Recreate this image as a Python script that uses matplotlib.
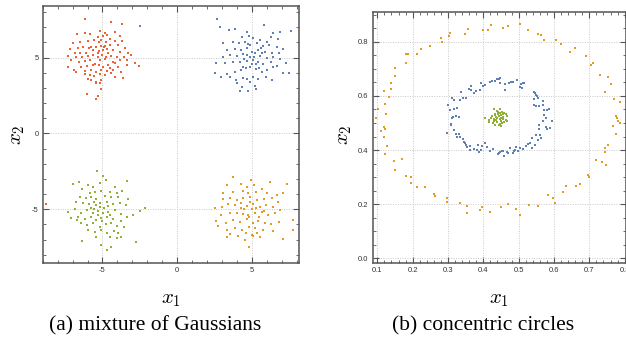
import matplotlib
matplotlib.use("Agg")
import matplotlib.pyplot as plt
from matplotlib.ticker import MultipleLocator
import numpy as np

# Mathematica default palette
C_BLUE = "#5E81B5"
C_ORANGE = "#E19C24"
C_GREEN = "#8FB032"
C_RED = "#EB6235"

# (a) mixture of Gaussians
red_pts = np.array([
    (-6.14, 7.54), (-4.40, 7.32), (-3.71, 7.23), (-6.70, 6.57), (-6.14, 6.64), (-5.85, 6.53),
    (-5.16, 6.73), (-4.82, 6.64), (-4.17, 6.66), (-4.73, 6.48), (-5.27, 6.37), (-3.84, 6.44),
    (-6.96, 5.98), (-6.50, 6.02), (-6.00, 6.09), (-5.56, 6.13), (-5.11, 6.15), (-4.78, 6.04),
    (-4.51, 6.20), (-4.17, 6.07), (-3.66, 6.07), (-7.14, 5.54), (-6.63, 5.65), (-6.29, 5.71),
    (-5.74, 5.71), (-5.40, 5.67), (-5.07, 5.78), (-4.80, 5.76), (-4.51, 5.80), (-3.95, 5.85),
    (-3.50, 5.60), (-6.85, 5.32), (-6.52, 5.27), (-6.07, 5.32), (-5.63, 5.49), (-5.22, 5.45),
    (-4.96, 5.49), (-4.69, 5.54), (-4.29, 5.49), (-3.84, 5.38), (-3.28, 5.27), (-7.30, 5.10),
    (-6.74, 5.05), (-6.34, 5.01), (-5.96, 5.10), (-5.63, 5.16), (-5.29, 5.05), (-5.00, 5.19),
    (-4.78, 5.01), (-4.40, 5.10), (-4.06, 5.01), (-3.57, 5.05), (-3.06, 5.16), (-7.08, 4.84),
    (-6.56, 4.73), (-6.18, 4.77), (-5.85, 4.84), (-5.18, 4.84), (-4.84, 4.88), (-4.29, 4.73),
    (-3.84, 4.84), (-3.33, 4.84), (-2.83, 4.66), (-7.30, 4.35), (-6.88, 4.18), (-6.41, 4.40),
    (-6.03, 4.44), (-5.63, 4.48), (-5.22, 4.51), (-4.96, 4.40), (-4.62, 4.48), (-4.17, 4.62),
    (-3.95, 4.40), (-3.39, 4.51), (-2.54, 4.44), (-6.74, 4.07), (-6.18, 4.11), (-5.74, 4.18),
    (-5.40, 4.07), (-5.07, 4.18), (-4.73, 4.13), (-4.29, 4.18), (-3.73, 4.07), (-6.18, 3.91),
    (-5.85, 3.85), (-5.56, 3.78), (-5.18, 3.91), (-4.84, 3.85), (-4.40, 3.96), (-4.17, 3.74),
    (-5.96, 3.56), (-5.74, 3.52), (-5.40, 3.41), (-5.11, 3.52), (-3.62, 3.67), (-5.40, 3.34),
    (-5.18, 3.34), (-5.07, 2.92), (-6.03, 2.57), (-5.33, 2.44), (-5.45, 2.26), (-5.30, 5.30),
    (-4.90, 5.70), (-5.50, 4.60), (-4.60, 5.30), (-5.90, 5.60), (-4.50, 4.30), (-5.20, 6.00),
    (-4.95, 6.40), (-8.75, -4.66),
])

blue_pts = np.array([
    (2.68, 7.54), (2.86, 7.03), (5.80, 7.14), (3.46, 6.81), (3.86, 6.86), (4.64, 6.66),
    (4.82, 6.42), (7.61, 6.75), (6.88, 6.70), (6.43, 6.59), (6.25, 6.37), (4.31, 6.33),
    (5.09, 6.26), (5.54, 6.15), (5.98, 6.04), (6.72, 6.20), (3.08, 5.98), (3.75, 6.04),
    (4.13, 5.93), (4.53, 6.04), (4.75, 5.87), (5.31, 5.93), (5.76, 5.76), (6.16, 5.82),
    (6.65, 5.71), (7.10, 5.54), (3.30, 5.49), (3.86, 5.54), (4.26, 5.49), (4.64, 5.60),
    (4.98, 5.38), (5.42, 5.49), (5.87, 5.38), (6.32, 5.27), (6.83, 5.32), (3.04, 5.05),
    (3.53, 5.16), (4.02, 5.10), (4.42, 5.23), (4.87, 5.01), (5.13, 5.05), (5.54, 5.10),
    (5.98, 4.95), (6.43, 5.05), (6.88, 4.88), (2.63, 4.62), (3.19, 4.66), (3.75, 4.70),
    (4.20, 4.73), (4.64, 4.79), (5.04, 4.84), (5.42, 4.73), (5.76, 4.57), (6.25, 4.70),
    (6.65, 4.44), (7.28, 4.66), (2.52, 4.00), (2.90, 3.74), (3.30, 3.91), (3.86, 4.07),
    (4.24, 4.18), (4.60, 4.29), (4.87, 4.40), (5.27, 4.22), (5.65, 4.07), (5.98, 4.18),
    (6.43, 4.40), (7.05, 3.96), (7.50, 4.00), (3.53, 3.69), (3.93, 3.52), (4.38, 3.63),
    (4.69, 3.56), (5.09, 3.74), (5.42, 3.60), (5.94, 3.69), (6.32, 3.52), (3.97, 3.30),
    (4.31, 3.03), (4.87, 3.41), (5.20, 3.12), (5.27, 2.90), (4.20, 2.81), (4.75, 2.81),
    (5.20, 5.30), (4.70, 5.20), (5.30, 4.60), (4.50, 4.90), (5.60, 5.60), (4.90, 5.80),
    (5.50, 4.30), (4.40, 4.40), (5.00, 4.60), (5.70, 5.30), (-2.50, 7.07),
])

green_pts = np.array([
    (-6.96, -3.34), (-6.58, -3.19), (-5.36, -2.46), (-4.96, -2.79), (-4.78, -3.08), (-6.00, -3.41),
    (-5.63, -3.52), (-5.18, -3.25), (-4.17, -3.52), (-3.39, -3.12), (-6.34, -3.69), (-5.85, -3.91),
    (-5.51, -3.85), (-5.07, -3.78), (-4.51, -3.85), (-4.06, -3.96), (-3.66, -3.78), (-6.52, -4.18),
    (-6.12, -4.29), (-5.74, -4.22), (-5.40, -4.35), (-4.84, -4.13), (-4.40, -4.22), (-3.95, -4.18),
    (-3.28, -4.35), (-6.79, -4.51), (-6.29, -4.57), (-5.89, -4.66), (-5.56, -4.51), (-5.18, -4.62),
    (-4.73, -4.51), (-4.29, -4.66), (-3.84, -4.57), (-3.44, -4.73), (-2.17, -4.95), (-7.30, -5.16),
    (-6.85, -5.01), (-6.41, -5.27), (-6.03, -5.05), (-5.63, -5.23), (-5.29, -5.10), (-4.96, -5.27),
    (-4.62, -5.16), (-4.17, -5.05), (-3.79, -5.32), (-2.95, -5.38), (-2.50, -5.10), (-7.08, -5.60),
    (-6.63, -5.49), (-6.18, -5.67), (-5.74, -5.54), (-5.40, -5.71), (-5.07, -5.60), (-4.73, -5.49),
    (-4.29, -5.67), (-3.73, -5.76), (-3.39, -5.49), (-6.41, -5.89), (-6.03, -6.04), (-5.63, -5.93),
    (-5.18, -6.15), (-4.78, -5.98), (-4.40, -5.89), (-4.06, -6.11), (-3.57, -6.20), (-5.96, -6.37),
    (-5.51, -6.48), (-5.07, -6.37), (-4.69, -6.55), (-4.24, -6.42), (-3.95, -6.59), (-5.40, -6.81),
    (-4.51, -6.86), (-4.06, -6.92), (-6.34, -7.08), (-5.07, -7.36), (-4.40, -7.52), (-4.73, -7.69),
    (-2.77, -7.16), (-3.79, -6.81), (-6.70, -5.71), (-5.18, -4.84), (-5.30, -5.40), (-4.90, -4.90),
    (-5.60, -5.00), (-4.50, -5.40), (-5.00, -5.80), (-5.80, -4.90), (-4.60, -4.80), (-5.40, -4.70),
])

orange_pts = np.array([
    (3.75, -2.86), (4.91, -3.08), (6.21, -3.19), (7.32, -3.34), (3.30, -3.41), (4.24, -3.34),
    (4.64, -3.52), (5.13, -3.41), (5.65, -3.69), (3.08, -3.96), (3.75, -3.85), (4.38, -3.78),
    (4.75, -3.91), (5.27, -3.85), (5.98, -3.96), (6.65, -4.07), (7.10, -3.91), (3.04, -4.35),
    (3.53, -4.29), (4.02, -4.40), (4.42, -4.29), (4.87, -4.18), (5.31, -4.40), (5.80, -4.35),
    (6.32, -4.29), (6.76, -4.51), (2.52, -4.95), (2.97, -4.84), (3.42, -4.66), (3.86, -4.73),
    (4.24, -4.62), (4.64, -4.79), (5.09, -4.66), (5.54, -4.84), (5.94, -4.73), (6.38, -4.88),
    (6.88, -5.05), (2.90, -5.38), (3.53, -5.27), (3.97, -5.23), (4.38, -5.32), (4.75, -5.38),
    (5.20, -5.27), (5.65, -5.16), (6.09, -5.38), (6.54, -5.27), (2.63, -5.76), (3.26, -5.89),
    (3.75, -5.71), (4.20, -5.82), (4.64, -5.67), (5.09, -5.93), (5.42, -5.76), (5.87, -5.89),
    (6.25, -5.98), (6.83, -5.82), (7.77, -5.71), (2.75, -6.11), (3.35, -6.37), (3.86, -6.26),
    (4.31, -6.37), (4.82, -6.15), (5.20, -6.26), (5.76, -6.37), (3.53, -6.64), (4.08, -6.77),
    (4.60, -6.59), (4.98, -6.70), (5.36, -6.55), (6.43, -6.42), (7.77, -6.37), (4.82, -7.47),
    (4.53, -7.03), (5.54, -6.86), (7.10, -6.95), (5.09, -6.77), (3.30, -6.86), (5.00, -5.00),
    (4.50, -5.00), (5.30, -4.90), (4.80, -5.50), (5.50, -5.50), (4.30, -4.90), (5.80, -5.10),
    (4.90, -4.50),
])

# (b) concentric circles
outer_pts = np.array([
    (0.280, 0.815), (0.283, 0.799), (0.306, 0.833), (0.302, 0.822), (0.349, 0.828), (0.356, 0.847),
    (0.399, 0.843), (0.413, 0.843), (0.423, 0.862), (0.248, 0.784), (0.225, 0.772), (0.213, 0.753),
    (0.187, 0.756), (0.180, 0.753), (0.181, 0.723), (0.149, 0.704), (0.150, 0.675), (0.139, 0.646),
    (0.140, 0.625), (0.119, 0.617), (0.134, 0.595), (0.122, 0.569), (0.103, 0.551), (0.125, 0.532),
    (0.096, 0.517), (0.118, 0.485), (0.121, 0.477), (0.111, 0.470), (0.119, 0.448),
    (0.457, 0.849), (0.470, 0.860), (0.505, 0.864), (0.527, 0.843), (0.554, 0.828), (0.562, 0.826),
    (0.573, 0.807), (0.605, 0.807), (0.607, 0.806), (0.621, 0.790), (0.644, 0.762), (0.659, 0.778),
    (0.690, 0.747), (0.705, 0.714), (0.711, 0.720), (0.729, 0.677), (0.752, 0.669), (0.761, 0.643),
    (0.744, 0.614), (0.769, 0.589), (0.788, 0.579), (0.776, 0.525), (0.778, 0.517), (0.781, 0.507),
    (0.787, 0.500), (0.766, 0.488), (0.774, 0.458),
    (0.128, 0.415), (0.123, 0.384), (0.147, 0.360), (0.169, 0.368), (0.151, 0.325), (0.182, 0.304),
    (0.194, 0.301), (0.194, 0.277), (0.211, 0.265), (0.234, 0.265), (0.261, 0.239), (0.263, 0.231),
    (0.298, 0.223), (0.297, 0.209), (0.335, 0.206), (0.354, 0.194), (0.354, 0.169), (0.390, 0.179),
    (0.396, 0.190), (0.420, 0.172),
    (0.752, 0.418), (0.745, 0.409), (0.743, 0.394), (0.719, 0.363), (0.735, 0.356), (0.748, 0.345),
    (0.695, 0.307), (0.700, 0.301), (0.674, 0.276), (0.662, 0.267), (0.633, 0.267), (0.626, 0.245),
    (0.583, 0.234), (0.598, 0.223), (0.602, 0.206), (0.554, 0.194), (0.530, 0.198), (0.493, 0.184),
    (0.503, 0.162), (0.471, 0.202), (0.450, 0.191),
])

inner_pts = np.array([
    (0.312, 0.594), (0.318, 0.584), (0.334, 0.584), (0.337, 0.615), (0.342, 0.594), (0.351, 0.594),
    (0.359, 0.625), (0.364, 0.621), (0.366, 0.636), (0.375, 0.612), (0.380, 0.617), (0.390, 0.623),
    (0.394, 0.646), (0.399, 0.637), (0.404, 0.642), (0.420, 0.652), (0.425, 0.654), (0.432, 0.654),
    (0.440, 0.664), (0.300, 0.568), (0.306, 0.549), (0.316, 0.552), (0.326, 0.554), (0.310, 0.520),
    (0.324, 0.526), (0.330, 0.523), (0.315, 0.522), (0.296, 0.463), (0.309, 0.498), (0.309, 0.494),
    (0.318, 0.475), (0.323, 0.460), (0.332, 0.460), (0.335, 0.448), (0.326, 0.448),
    (0.446, 0.667), (0.443, 0.664), (0.448, 0.646), (0.462, 0.643), (0.473, 0.646), (0.479, 0.652),
    (0.483, 0.651), (0.495, 0.658), (0.460, 0.621), (0.507, 0.643), (0.511, 0.648), (0.516, 0.648),
    (0.505, 0.633), (0.510, 0.630), (0.543, 0.615), (0.546, 0.609), (0.550, 0.602), (0.552, 0.599),
    (0.554, 0.594), (0.543, 0.590), (0.543, 0.568), (0.550, 0.562), (0.557, 0.562), (0.570, 0.581),
    (0.570, 0.568), (0.571, 0.547), (0.579, 0.549), (0.586, 0.551), (0.573, 0.531), (0.578, 0.520),
    (0.595, 0.507), (0.570, 0.507), (0.576, 0.485), (0.579, 0.478), (0.557, 0.491), (0.557, 0.478),
    (0.590, 0.483), (0.550, 0.454), (0.559, 0.454), (0.562, 0.444), (0.538, 0.444),
    (0.342, 0.442), (0.344, 0.431), (0.349, 0.427), (0.351, 0.418), (0.353, 0.412), (0.362, 0.415),
    (0.361, 0.400), (0.375, 0.405), (0.383, 0.399), (0.387, 0.394), (0.392, 0.402), (0.386, 0.417),
    (0.396, 0.415), (0.404, 0.427), (0.409, 0.411), (0.420, 0.396), (0.428, 0.405), (0.442, 0.384),
    (0.443, 0.388), (0.448, 0.394), (0.452, 0.396), (0.457, 0.396), (0.459, 0.378), (0.467, 0.394),
    (0.471, 0.390), (0.476, 0.406), (0.484, 0.388), (0.488, 0.396), (0.490, 0.400), (0.492, 0.412),
    (0.497, 0.396), (0.505, 0.406), (0.512, 0.405), (0.522, 0.415), (0.526, 0.421), (0.533, 0.425),
    (0.538, 0.406), (0.545, 0.417), (0.554, 0.439),
])

core_pts = np.array([
    (0.429, 0.550), (0.438, 0.545), (0.446, 0.550), (0.452, 0.541), (0.433, 0.535), (0.441, 0.532),
    (0.448, 0.537), (0.459, 0.537), (0.465, 0.532), (0.424, 0.525), (0.436, 0.523), (0.444, 0.525),
    (0.451, 0.528), (0.457, 0.523), (0.468, 0.525), (0.421, 0.517), (0.431, 0.513), (0.440, 0.517),
    (0.448, 0.513), (0.455, 0.515), (0.463, 0.510), (0.467, 0.508), (0.417, 0.504), (0.427, 0.500),
    (0.438, 0.504), (0.446, 0.498), (0.453, 0.500), (0.459, 0.503), (0.433, 0.492), (0.443, 0.492),
    (0.450, 0.488), (0.406, 0.520), (0.415, 0.510), (0.436, 0.510), (0.450, 0.508), (0.457, 0.535),
    (0.442, 0.540), (0.434, 0.528), (0.429, 0.508), (0.451, 0.520),
])

FRAME = "#555555"
TICK_TEXT = "#333333"

plt.rcParams["mathtext.fontset"] = "cm"
plt.rcParams["axes.unicode_minus"] = False


def style_axes(ax, xmajor, xminor, ymajor, yminor):
    ax.xaxis.set_major_locator(MultipleLocator(xmajor))
    ax.xaxis.set_minor_locator(MultipleLocator(xminor))
    ax.yaxis.set_major_locator(MultipleLocator(ymajor))
    ax.yaxis.set_minor_locator(MultipleLocator(yminor))
    ax.tick_params(which="both", direction="in", top=True, right=True,
                   color=FRAME, labelcolor=TICK_TEXT, labelsize=5.5, pad=3)
    ax.tick_params(which="major", length=4, width=0.8)
    ax.tick_params(which="minor", length=2.5, width=0.6)
    for lab in ax.get_xticklabels() + ax.get_yticklabels():
        lab.set_family("Liberation Sans")
    for sp in ax.spines.values():
        sp.set_color(FRAME)
        sp.set_linewidth(1.1)
    ax.grid(True, which="major", color="#C8C8C8", linestyle=(0, (1, 1.5)), linewidth=0.7)
    ax.set_axisbelow(True)


fig = plt.figure(figsize=(6.26, 3.41), dpi=100)

ax1 = fig.add_axes([0.0682, 0.2287, 0.4094, 0.7537])
for pts, col in [(red_pts, C_RED), (blue_pts, C_BLUE), (green_pts, C_GREEN), (orange_pts, C_ORANGE)]:
    ax1.scatter(pts[:, 0], pts[:, 1], s=2.8, marker="s", color=col, linewidths=0)
ax1.set_xlim(-9.0, 8.15)
ax1.set_ylim(-8.55, 8.4)
style_axes(ax1, 5, 1, 5, 1)
ax1.set_xticks([-5, 0, 5])
ax1.set_yticks([-5, 0, 5])

ax2 = fig.add_axes([0.5954, 0.2279, 0.4042, 0.737])
for pts, col in [(inner_pts, C_BLUE), (outer_pts, C_ORANGE), (core_pts, C_GREEN)]:
    ax2.scatter(pts[:, 0], pts[:, 1], s=2.8, marker="s", color=col, linewidths=0)
ax2.set_xlim(0.087, 0.803)
ax2.set_ylim(-0.018, 0.91)
style_axes(ax2, 0.1, 0.02, 0.2, 0.05)

# axis labels
fig.text(0.2729, 0.123, r"$x_1$", fontsize=15, ha="center", va="center")
fig.text(0.027, 0.605, r"$x_2$", fontsize=15, ha="center", va="center", rotation=90)
fig.text(0.7975, 0.123, r"$x_1$", fontsize=15, ha="center", va="center")
fig.text(0.550, 0.605, r"$x_2$", fontsize=15, ha="center", va="center", rotation=90)

# sub-captions
fig.text(0.2476, 0.045, "(a) mixture of Gaussians", fontsize=15.5,
         family="Liberation Serif", ha="center", va="center")
fig.text(0.7716, 0.045, "(b) concentric circles", fontsize=15.5,
         family="Liberation Serif", ha="center", va="center")

fig.savefig("out.png", dpi=100)
